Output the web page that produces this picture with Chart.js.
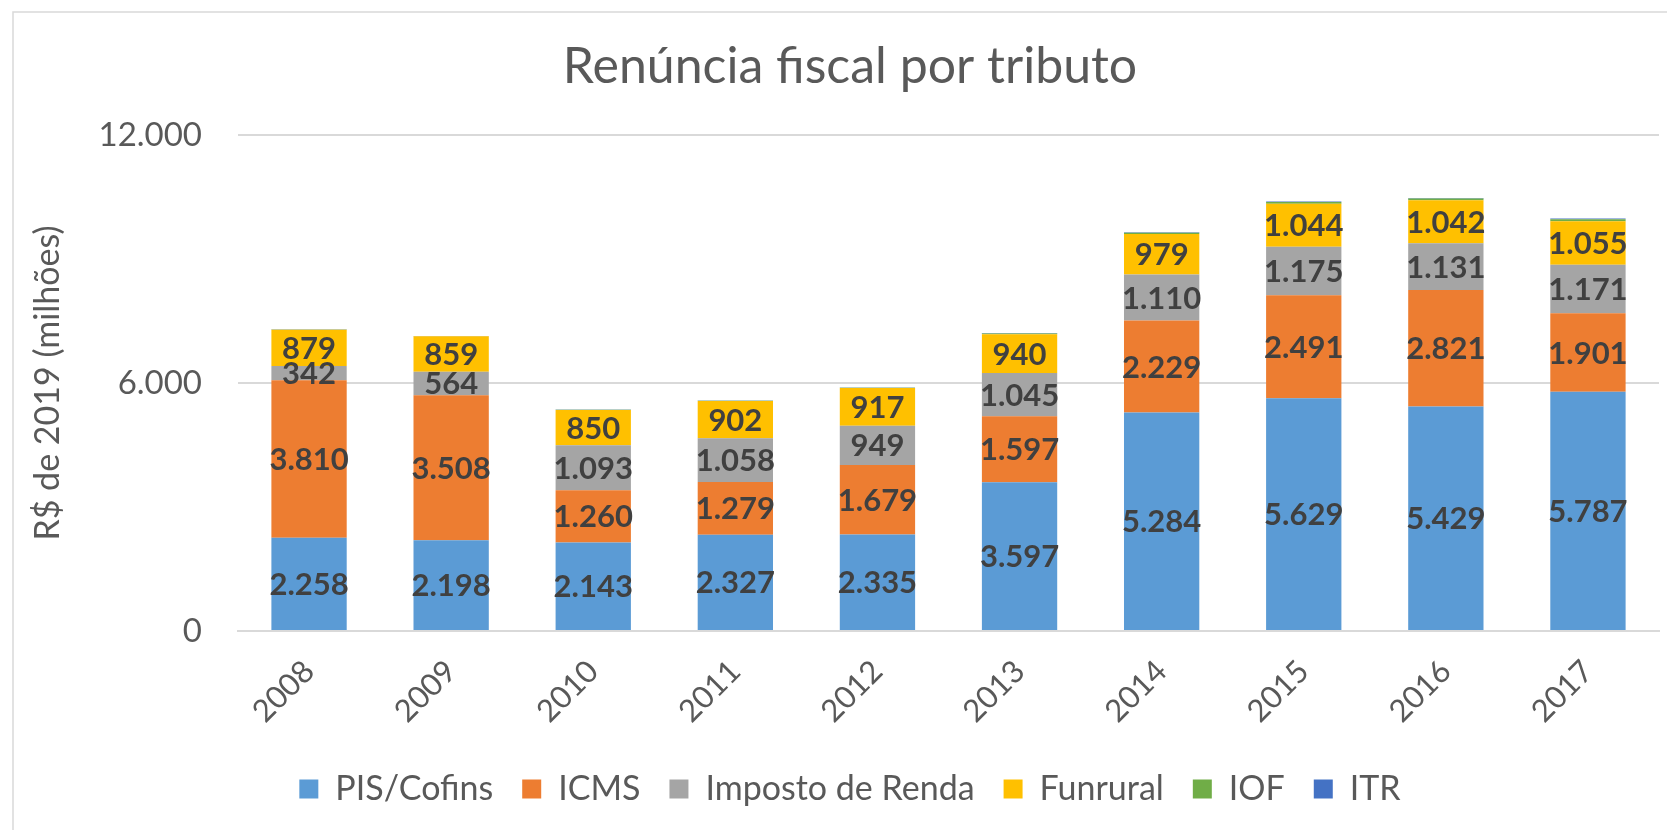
<!DOCTYPE html>
<html>
<head>
<meta charset="utf-8">
<script src="https://cdn.jsdelivr.net/npm/chart.js@4.4.0/dist/chart.umd.min.js"></script>
<style>
  html, body { margin: 0; padding: 0; background: #fff; overflow: hidden; }
  #wrap { width: 1700px; height: 830px; }
</style>
</head>
<body>
<div id="wrap"><canvas id="myChart" width="1700" height="830"></canvas></div>
<script>
const years = ['2008', '2009', '2010', '2011', '2012', '2013', '2014', '2015', '2016', '2017'];
const pisCofins = [2258, 2198, 2143, 2327, 2335, 3597, 5284, 5629, 5429, 5787];
const icms = [3810, 3508, 1260, 1279, 1679, 1597, 2229, 2491, 2821, 1901];
const impostoRenda = [342, 564, 1093, 1058, 949, 1045, 1110, 1175, 1131, 1171];
const funrural = [879, 859, 850, 902, 917, 940, 979, 1044, 1042, 1055];
const iof = [5, 5, 5, 5, 5, 20, 35, 40, 40, 45];
const itr = [5, 5, 5, 5, 5, 8, 12, 15, 14, 20];
const yTicks = [0, 6000, 12000];

const FONT = 'Lato';
const textGrey = '#595959';

// labels inside the bar segments
const segmentLabels = {
    id: 'segmentLabels',
    afterDatasetsDraw(chart) {
        const c = chart.ctx;
        c.save();
        c.font = 'bold 31px ' + FONT;
        c.fillStyle = '#404040';
        c.textAlign = 'center';
        c.textBaseline = 'middle';
        chart.data.datasets.forEach((ds, i) => {
            if (!ds.showLabels) return;
            chart.getDatasetMeta(i).data.forEach((bar, j) => {
                const v = ds.data[j];
                c.fillText(v.toLocaleString('pt-BR'), bar.x, (bar.y + bar.base) / 2 + 1);
            });
        });
        c.restore();
    }
};

// light frame of the chart box
const frame = {
    id: 'frame',
    beforeDraw(chart) {
        const c = chart.ctx;
        c.save();
        c.fillStyle = '#fff';
        c.fillRect(0, 0, chart.width, chart.height);
        c.strokeStyle = '#d9d9d9';
        c.lineWidth = 1.5;
        c.beginPath();
        c.moveTo(13, chart.height);
        c.lineTo(13, 12);
        c.lineTo(chart.width, 12);
        c.stroke();
        c.restore();
    }
};

const data = {
    labels: years,
    datasets: [
        { label: 'PIS/Cofins', data: pisCofins, backgroundColor: '#5B9BD5', showLabels: true },
        { label: 'ICMS', data: icms, backgroundColor: '#ED7D31', showLabels: true },
        { label: 'Imposto de Renda', data: impostoRenda, backgroundColor: '#A5A5A5', showLabels: true },
        { label: 'Funrural', data: funrural, backgroundColor: '#FFC000', showLabels: true },
        { label: 'IOF', data: iof, backgroundColor: '#70AD47' },
        { label: 'ITR', data: itr, backgroundColor: '#4472C4' }
    ]
};

const config = {
    type: 'bar',
    data: data,
    plugins: [frame, segmentLabels],
    options: {
        responsive: false,
        animation: false,
        layout: { padding: { left: 41, right: 41, top: 37, bottom: 14 } },
        datasets: {
            bar: { barPercentage: 0.53, categoryPercentage: 1, borderWidth: 0 }
        },
        scales: {
            x: {
                stacked: true,
                grid: { display: false, drawTicks: false },
                border: { color: '#d9d9d9', width: 2 },
                ticks: {
                    color: textGrey,
                    font: { family: FONT, size: 31 },
                    minRotation: 45,
                    maxRotation: 45,
                    padding: 22
                },
                afterFit: s => { s.height = 112; }
            },
            y: {
                stacked: true,
                min: 0,
                max: 12000,
                afterBuildTicks: s => { s.ticks = yTicks.map(v => ({ value: v })); },
                grid: { color: '#d9d9d9', lineWidth: 2, drawTicks: false },
                border: { display: false },
                ticks: {
                    color: textGrey,
                    font: { family: FONT, size: 33 },
                    padding: 36,
                    callback: v => v.toLocaleString('pt-BR')
                },
                title: {
                    display: true,
                    text: 'R$ de 2019 (milhões)',
                    color: textGrey,
                    font: { family: FONT, size: 34 },
                    padding: { top: -13, bottom: 0 }
                },
                afterFit: s => { s.width = 197; }
            }
        },
        plugins: {
            title: {
                display: true,
                text: 'Renúncia fiscal por tributo',
                color: textGrey,
                font: { family: FONT, size: 50, weight: 'normal' },
                padding: { top: 0, bottom: 38 }
            },
            legend: {
                position: 'bottom',
                labels: {
                    color: textGrey,
                    font: { family: FONT, size: 34 },
                    boxWidth: 19,
                    boxHeight: 19,
                    padding: 29
                }
            },
            tooltip: { enabled: false }
        }
    }
};

const myChart = new Chart(document.getElementById('myChart'), config);
</script>
</body>
</html>
